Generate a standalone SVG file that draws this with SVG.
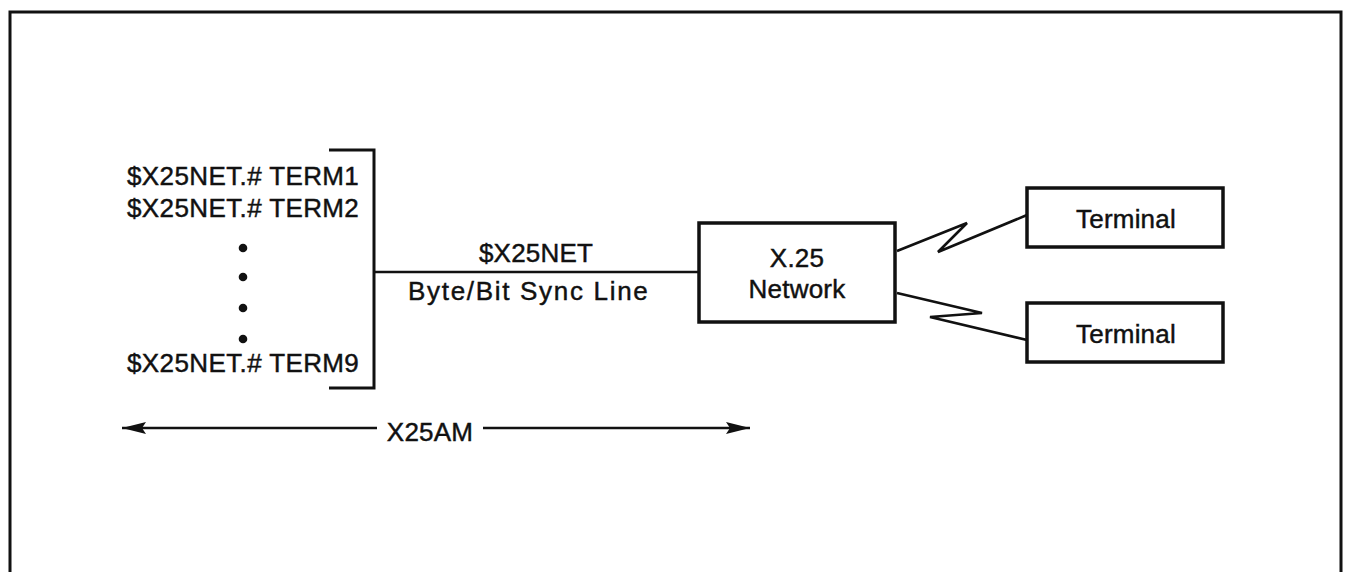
<svg xmlns="http://www.w3.org/2000/svg" width="1348" height="572" viewBox="0 0 1348 572">
  <style>
    .frame { fill: none; stroke: #111; stroke-width: 3; }
    .box { fill: #fff; stroke: #111; stroke-width: 3.5; }
    .line { fill: none; stroke: #111; stroke-width: 2.6; stroke-linejoin: miter; }
    .lbl { font-family: "Liberation Sans", Arial, sans-serif; font-size: 26px; fill: #111; stroke: #111; stroke-width: 0.45; letter-spacing: 0.2px; }
    .mid { text-anchor: middle; }
  </style>
  <defs>
    <marker id="head" viewBox="0 0 24 12" refX="24" refY="6" markerWidth="24" markerHeight="12" markerUnits="userSpaceOnUse" orient="auto-start-reverse">
      <path d="M0,0 L24,6 L0,12 L4,6 Z" fill="#111"/>
    </marker>
  </defs>

  <rect width="1348" height="572" fill="#fff"/>

  <!-- outer frame, open at the bottom -->
  <path class="frame" d="M10,575 L10,12 L1341,12 L1341,575"/>

  <!-- process names gathered by the bracket -->
  <g id="processes">
    <text class="lbl" x="127" y="185" textLength="232">$X25NET.# TERM1</text>
    <text class="lbl" x="127" y="217" textLength="232">$X25NET.# TERM2</text>
    <circle cx="243" cy="248" r="4.3" fill="#111"/>
    <circle cx="243" cy="277" r="4.3" fill="#111"/>
    <circle cx="243" cy="308" r="4.3" fill="#111"/>
    <circle cx="243" cy="339" r="4.3" fill="#111"/>
    <text class="lbl" x="127" y="372" textLength="232">$X25NET.# TERM9</text>
    <path class="frame" d="M329,150 L374,150 L374,388 L329,388"/>
  </g>

  <g id="x25-network">
    <rect class="box" x="699" y="223" width="196" height="99"/>
    <text class="lbl mid" x="797" y="267">X.25</text>
    <text class="lbl mid" x="797" y="298">Network</text>
  </g>

  <g id="terminal-1">
    <rect class="box" x="1027" y="188" width="196" height="59"/>
    <text class="lbl mid" x="1126" y="228">Terminal</text>
  </g>

  <g id="terminal-2">
    <rect class="box" x="1027" y="303" width="196" height="59"/>
    <text class="lbl mid" x="1126" y="343">Terminal</text>
  </g>

  <g id="connectors">
    <!-- sync line from the process group to the network -->
    <line class="line" x1="374" y1="272" x2="699" y2="272"/>
    <text class="lbl mid" x="536" y="262">$X25NET</text>
    <text class="lbl mid" x="528" y="300" textLength="240">Byte/Bit Sync Line</text>

    <!-- lightning links to the terminals -->
    <polyline class="line" points="897,251 967,223 938,252 1027,215"/>
    <polyline class="line" points="897,293 982,313 930,317 1027,340"/>

    <!-- X25AM span -->
    <line class="line" x1="122" y1="428" x2="377" y2="428" marker-start="url(#head)"/>
    <line class="line" x1="483" y1="428" x2="750" y2="428" marker-end="url(#head)"/>
    <text class="lbl mid" x="430" y="441">X25AM</text>
  </g>
</svg>
